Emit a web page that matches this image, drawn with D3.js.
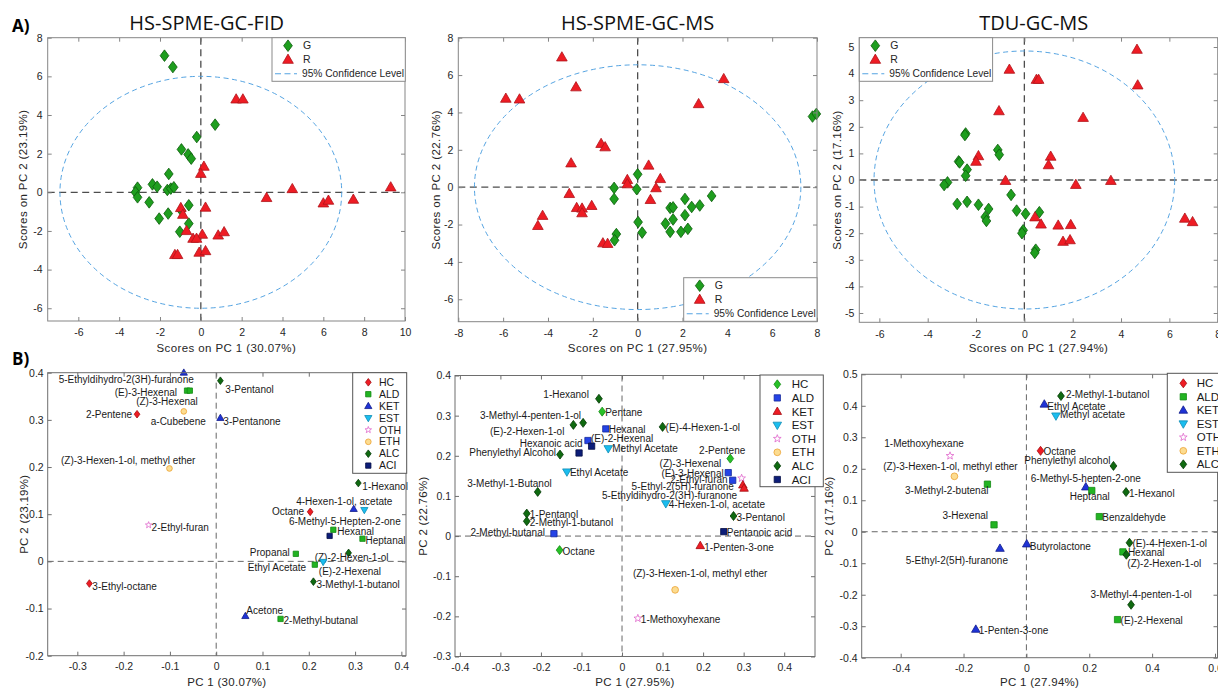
<!DOCTYPE html>
<html>
<head>
<meta charset="utf-8">
<script src="https://cdn.jsdelivr.net/npm/d3@7"></script>
<style>
  body { margin: 0; background: #fff; }
  svg { display: block; font-family: "Liberation Sans", Arial, sans-serif; }
</style>
</head>
<body>
<svg id="fig" width="1218" height="690"></svg>
<script>
// ---- score plots (A) : [PC1, PC2] per sample ----
const fidG = [[-1.78,7.07],[-1.37,6.48],[0.70,3.50],[-0.20,2.86],[-0.95,2.22],[-0.62,1.96],[-0.47,1.74],[-1.57,0.95],[-2.37,0.41],[-2.14,0.29],[-3.10,0.24],[-1.64,0.12],[-1.47,0.19],[-1.32,0.26],[-3.20,0.00],[-3.10,-0.26],[-2.53,-0.52],[-0.59,-0.67],[-1.60,-1.10],[-2.04,-1.36],[-0.59,-1.62],[-1.03,-2.04],[-0.95,-0.95]];
const fidR = [[1.73,4.81],[2.06,4.81],[0.15,1.33],[0.00,0.96],[4.48,0.17],[9.30,0.26],[3.22,-0.29],[6.00,-0.57],[6.25,-0.43],[7.47,-0.38],[-0.98,-0.81],[-0.88,-1.16],[0.23,-0.79],[-0.70,-2.00],[0.07,-2.19],[0.85,-2.23],[1.14,-2.06],[-0.38,-2.40],[-0.21,-2.40],[-1.27,-3.24],[-1.14,-3.24],[-0.08,-3.12],[0.23,-3.04]];
const msG = [[7.80,3.78],[7.97,3.92],[0.00,0.69],[-1.05,-0.04],[-0.04,-0.11],[-1.05,-0.63],[0.02,-1.87],[0.20,-2.43],[-0.95,-2.51],[-1.03,-2.84],[2.11,-0.63],[3.30,-0.47],[2.77,-0.98],[2.41,-1.06],[1.45,-1.11],[1.58,-1.08],[2.11,-1.50],[1.58,-1.73],[1.24,-1.95],[1.45,-2.39],[1.93,-2.39],[2.24,-2.23]];
const msR = [[-3.38,6.95],[-5.88,4.74],[-5.27,4.70],[-2.75,5.35],[3.84,5.79],[2.72,4.45],[-1.63,2.32],[-1.45,2.14],[-2.97,1.28],[0.49,1.16],[-0.46,0.39],[-0.46,0.16],[1.01,0.44],[0.82,-0.05],[0.57,-0.68],[-3.05,-0.36],[-2.72,-1.11],[-2.48,-1.14],[-2.48,-1.39],[-2.05,-1.00],[-4.24,-1.53],[-4.45,-2.07],[-1.55,-3.00],[-1.34,-3.03]];
const tduG = [[-2.43,1.75],[-2.46,1.69],[-1.10,1.13],[-1.04,0.95],[-2.72,0.70],[-2.68,0.66],[-2.37,0.39],[-2.43,0.16],[-3.18,-0.09],[-3.32,-0.19],[-0.55,-0.56],[-2.78,-0.90],[-2.37,-0.82],[-1.90,-0.93],[-1.48,-1.09],[-1.62,-1.39],[-1.57,-1.54],[-0.32,-1.15],[0.05,-1.27],[0.62,-1.21],[-0.05,-1.89],[-0.10,-2.00],[0.47,-2.62],[0.43,-2.74]];
const tduR = [[4.66,4.90],[-0.62,4.15],[0.50,3.77],[0.59,3.77],[4.69,3.56],[2.43,2.34],[-1.05,2.59],[-1.90,0.90],[-2.00,0.69],[1.09,0.88],[1.00,0.56],[-0.78,-0.03],[2.13,-0.18],[3.58,-0.03],[6.64,-1.45],[6.96,-1.58],[0.44,-1.40],[0.69,-1.67],[1.40,-1.71],[1.92,-1.69],[1.60,-2.32],[1.89,-2.26]];
// 95% confidence ellipse half-axes [PC1, PC2]
const fidConf = [6.9, 6.0];
const msConf = [7.28, 6.55];
const tduConf = [6.22, 4.85];

// ---- loading plots (B) : [compound, class, PC1, PC2] ----
const classes = ["HC", "ALD", "KET", "EST", "OTH", "ETH", "ALC", "ACI"];
const fidLoad = [
  ["5-Ethyldihydro-2(3H)-furanone","KET",-0.070,0.400],
  ["(E)-3-Hexenal","ALD",-0.063,0.362],
  ["(Z)-3-Hexenal","ALD",-0.057,0.362],
  ["2-Pentene","HC",-0.171,0.312],
  ["a-Cubebene","ETH",-0.070,0.318],
  ["3-Pentanol","ALC",0.009,0.383],
  ["3-Pentanone","KET",0.009,0.304],
  ["(Z)-3-Hexen-1-ol, methyl ether","ETH",-0.101,0.197],
  ["1-Hexanol","ALC",0.307,0.166],
  ["4-Hexen-1-ol, acetate","EST",0.320,0.109],
  ["6-Methyl-5-Hepten-2-one","KET",0.297,0.111],
  ["Octane","HC",0.203,0.105],
  ["2-Ethyl-furan","OTH",-0.146,0.077],
  ["Hexanal","ALD",0.253,0.067],
  ["","ACI",0.245,0.054],
  ["Heptanal","ALD",0.316,0.048],
  ["Propanal","ALD",0.172,0.016],
  ["(Z)-2-Hexen-1-ol","ALC",0.286,0.018],
  ["Ethyl Acetate","EST",0.231,-0.001],
  ["(E)-2-Hexenal","ALD",0.213,-0.007],
  ["3-Methyl-1-butanol","ALC",0.210,-0.043],
  ["3-Ethyl-octane","HC",-0.274,-0.047],
  ["Acetone","KET",0.063,-0.116],
  ["2-Methyl-butanal","ALD",0.139,-0.122]
];
const msLoad = [
  ["1-Hexanol","ALC",-0.057,0.342],
  ["Pentane","HC",-0.049,0.310],
  ["3-Methyl-4-penten-1-ol","ALC",-0.096,0.282],
  ["(E)-2-Hexen-1-ol","ALC",-0.120,0.277],
  ["Hexanal","ALD",-0.040,0.267],
  ["(E)-2-Hexenal","ALD",-0.084,0.238],
  ["Hexanoic acid","ACI",-0.075,0.224],
  ["Phenylethyl Alcohol","ALC",-0.153,0.203],
  ["","ACI",-0.106,0.207],
  ["Methyl Acetate","EST",-0.034,0.218],
  ["(E)-4-Hexen-1-ol","ALC",0.100,0.272],
  ["Ethyl Acetate","EST",-0.136,0.160],
  ["2-Pentene","HC",0.267,0.193],
  ["(Z)-3-Hexenal","ALD",0.262,0.158],
  ["(E)-3-Hexenal","ALD",0.273,0.139],
  ["2-Ethyl-furan","OTH",0.295,0.144],
  ["5-Ethyl-2(5H)-furanone","KET",0.298,0.127],
  ["5-Ethyldihydro-2(3H)-furanone","KET",0.301,0.119],
  ["3-Methyl-1-Butanol","ALC",-0.208,0.110],
  ["4-Hexen-1-ol, acetate","EST",0.108,0.081],
  ["1-Pentanol","ALC",-0.235,0.056],
  ["2-Methyl-1-butanol","ALC",-0.235,0.037],
  ["3-Pentanol","ALC",0.275,0.050],
  ["2-Methyl-butanal","ALD",-0.168,0.006],
  ["Pentanoic acid","ACI",0.251,0.011],
  ["Octane","HC",-0.154,-0.035],
  ["1-Penten-3-one","KET",0.193,-0.024],
  ["(Z)-3-Hexen-1-ol, methyl ether","ETH",0.131,-0.134],
  ["1-Methoxyhexane","OTH",0.039,-0.205]
];
const tduLoad = [
  ["2-Methyl-1-butanol","ALC",0.110,0.431],
  ["Ethyl Acetate","KET",0.057,0.405],
  ["Methyl acetate","EST",0.094,0.368],
  ["1-Methoxyhexane","OTH",-0.243,0.241],
  ["Octane","HC",0.045,0.257],
  ["Phenylethyl alcohol","ALC",0.277,0.209],
  ["(Z)-3-Hexen-1-ol, methyl ether","ETH",-0.229,0.176],
  ["3-Methyl-2-butenal","ALD",-0.124,0.151],
  ["6-Methyl-5-hepten-2-one","KET",0.189,0.142],
  ["Heptanal","ALD",0.208,0.131],
  ["1-Hexanol","ALC",0.317,0.126],
  ["3-Hexenal","ALD",-0.103,0.022],
  ["Benzaldehyde","ALD",0.232,0.048],
  ["Butyrolactone","KET",0.001,-0.039],
  ["5-Ethyl-2(5H)-furanone","KET",-0.084,-0.053],
  ["(E)-4-Hexen-1-ol","ALC",0.328,-0.035],
  ["Hexanal","ALD",0.307,-0.064],
  ["(Z)-2-Hexen-1-ol","ALC",0.318,-0.073],
  ["3-Methyl-4-penten-1-ol","ALC",0.333,-0.232],
  ["(E)-2-Hexenal","ALD",0.290,-0.279],
  ["1-Penten-3-one","KET",-0.161,-0.310]
];

// ---- tick values ----
const fidScoreX = [-6,-4,-2,0,2,4,6,8,10], fidScoreY = [-6,-4,-2,0,2,4,6,8];
const msScoreX = [-8,-6,-4,-2,0,2,4,6,8], msScoreY = [-6,-4,-2,0,2,4,6,8];
const tduScoreX = [-6,-4,-2,0,2,4,6,8], tduScoreY = [-5,-4,-3,-2,-1,0,1,2,3,4,5];
const fidLoadX = [-0.3,-0.2,-0.1,0,0.1,0.2,0.3,0.4], fidLoadY = [-0.2,-0.1,0,0.1,0.2,0.3,0.4];
const msLoadX = [-0.4,-0.3,-0.2,-0.1,0,0.1,0.2,0.3,0.4], msLoadY = [-0.3,-0.2,-0.1,0,0.1,0.2,0.3,0.4];
const tduLoadX = [-0.4,-0.2,0,0.2,0.4,0.6], tduLoadY = [-0.4,-0.3,-0.2,-0.1,0,0.1,0.2,0.3,0.4,0.5];

// ---- label placement (anchor, dx, dy from the marker) ----
const fidLabelAt = {
  "5-Ethyldihydro-2(3H)-furanone": ["end", 10, 7], "(E)-3-Hexenal": ["end", -10, 2], "(Z)-3-Hexenal": ["end", 8, 11],
  "2-Pentene": ["end", -5, 0], "a-Cubebene": ["end", 22, 10], "3-Pentanol": ["start", 5, 9], "3-Pentanone": ["start", 3, 4],
  "(Z)-3-Hexen-1-ol, methyl ether": ["end", 26, -8], "1-Hexanol": ["start", 4, 3], "4-Hexen-1-ol, acetate": ["end", 28, -8],
  "6-Methyl-5-Hepten-2-one": ["end", 47, 12], "Octane": ["end", -6, 0], "2-Ethyl-furan": ["start", 3, 2], "Hexanal": ["start", 4, 2],
  "Heptanal": ["start", 3, 2], "Propanal": ["end", -6, -1], "(Z)-2-Hexen-1-ol": ["middle", 3, 5], "Ethyl Acetate": ["end", -17, 6],
  "(E)-2-Hexenal": ["start", 4, 7], "3-Methyl-1-butanol": ["start", 3, 3], "3-Ethyl-octane": ["start", 3, 3],
  "Acetone": ["start", 1, -6], "2-Methyl-butanal": ["start", 3, 2]
};
const msLabelAt = {
  "1-Hexanol": ["end", -10, -4], "Pentane": ["start", 3, 1], "3-Methyl-4-penten-1-ol": ["end", -2, -7], "(E)-2-Hexen-1-ol": ["end", -9, 7],
  "Hexanal": ["start", 3, 1], "(E)-2-Hexenal": ["start", 3, -2], "Hexanoic acid": ["end", -9, -3], "Phenylethyl Alcohol": ["end", -4, -2],
  "Methyl Acetate": ["start", 4, 0], "(E)-4-Hexen-1-ol": ["start", 3, 1], "Ethyl Acetate": ["start", 3, 1], "2-Pentene": ["end", 15, -8],
  "(Z)-3-Hexenal": ["end", -7, -9], "(E)-3-Hexenal": ["end", -9, -7], "2-Ethyl-furan": ["end", -14, 1], "5-Ethyl-2(5H)-furanone": ["end", -9, 1],
  "5-Ethyldihydro-2(3H)-furanone": ["end", -7, 7], "3-Methyl-1-Butanol": ["end", 14, -8], "4-Hexen-1-ol, acetate": ["start", 3, 1],
  "1-Pentanol": ["start", 3, 1], "2-Methyl-1-butanol": ["start", 3, 1], "3-Pentanol": ["start", 3, 1], "2-Methyl-butanal": ["end", -9, -1],
  "Pentanoic acid": ["start", 3, 1], "Octane": ["start", 3, 1], "1-Penten-3-one": ["start", 4, 2],
  "(Z)-3-Hexen-1-ol, methyl ether": ["middle", 25, -16], "1-Methoxyhexane": ["start", 3, 1]
};
const tduLabelAt = {
  "2-Methyl-1-butanol": ["start", 5, -2], "Ethyl Acetate": ["start", 3, 2], "Methyl acetate": ["start", 4, -1],
  "1-Methoxyhexane": ["middle", -26, -12], "Octane": ["start", 3, 1], "Phenylethyl alcohol": ["end", -3, -5],
  "(Z)-3-Hexen-1-ol, methyl ether": ["middle", -4, -10], "3-Methyl-2-butenal": ["end", 1, 6], "6-Methyl-5-hepten-2-one": ["middle", 0, -9],
  "Heptanal": ["middle", -2, 6], "1-Hexanol": ["start", 3, 1], "3-Hexenal": ["end", -6, -9], "Benzaldehyde": ["start", 3, 1],
  "Butyrolactone": ["start", 3, 2], "5-Ethyl-2(5H)-furanone": ["end", 8, 12], "(E)-4-Hexen-1-ol": ["start", 3, 1],
  "Hexanal": ["start", 5, 1], "(Z)-2-Hexen-1-ol": ["start", 1, 9], "3-Methyl-4-penten-1-ol": ["middle", 10, -10],
  "(E)-2-Hexenal": ["start", 3, 1], "1-Penten-3-one": ["start", 3, 1]
};

// ---- marker shapes (d3.symbol custom types) ----
const shapes = {
  diamond: { draw(c, s) { const r = Math.sqrt(s); c.moveTo(0, -r); c.lineTo(r * 0.75, 0); c.lineTo(0, r); c.lineTo(-r * 0.75, 0); c.closePath(); } },
  triUp: { draw(c, s) { const r = Math.sqrt(s); c.moveTo(0, -r); c.lineTo(r * 0.95, r * 0.65); c.lineTo(-r * 0.95, r * 0.65); c.closePath(); } },
  triDown: { draw(c, s) { const r = Math.sqrt(s); c.moveTo(0, r); c.lineTo(r * 0.95, -r * 0.65); c.lineTo(-r * 0.95, -r * 0.65); c.closePath(); } },
  square: { draw(c, s) { const r = Math.sqrt(s) * 0.7; c.rect(-r, -r, 2 * r, 2 * r); } },
  circle: { draw(c, s) { const r = Math.sqrt(s) * 0.75; c.moveTo(r, 0); c.arc(0, 0, r, 0, 2 * Math.PI); } },
  star: { draw(c, s) {
    const R = Math.sqrt(s) * 0.9, ri = R * 0.42;
    for (let i = 0; i < 10; i++) {
      const a = -Math.PI / 2 + i * Math.PI / 5, rr = i % 2 ? ri : R;
      if (i) c.lineTo(rr * Math.cos(a), rr * Math.sin(a)); else c.moveTo(rr * Math.cos(a), rr * Math.sin(a));
    }
    c.closePath();
  } }
};
const mark = (type, r) => d3.symbol().type(shapes[type]).size(r * r);

const st = {
  red: { shape: "diamond", fill: "#ee1c24", stroke: "#a30d12" },
  ltGreen: { shape: "diamond", fill: "#27c127", stroke: "#138a13" },
  greenSq: { shape: "square", fill: "#22b422", stroke: "#138a13" },
  blueSq: { shape: "square", fill: "#2443e6", stroke: "#15289a" },
  blueTri: { shape: "triUp", fill: "#1f33d6", stroke: "#111d8a" },
  redTri: { shape: "triUp", fill: "#ee1c24", stroke: "#a30d12" },
  cyan: { shape: "triDown", fill: "#1bbdef", stroke: "#0e8db5" },
  pink: { shape: "star", fill: "none", stroke: "#e066cc" },
  orange: { shape: "circle", fill: "#fcdc90", stroke: "#eba234" },
  dkGreen: { shape: "diamond", fill: "#0f6a10", stroke: "#053806" },
  navy: { shape: "square", fill: "#0c1d78", stroke: "#050e45" }
};
const fidStyle = { HC: st.red, ALD: st.greenSq, KET: st.blueTri, EST: st.cyan, OTH: st.pink, ETH: st.orange, ALC: st.dkGreen, ACI: st.navy };
const msStyle = { HC: st.ltGreen, ALD: st.blueSq, KET: st.redTri, EST: st.cyan, OTH: st.pink, ETH: st.orange, ALC: st.dkGreen, ACI: st.navy };
const tduStyle = fidStyle;

const svg = d3.select("#fig");
const fmt = d => String(+d.toFixed(2));

function makeScales(p) {
  return {
    x: d3.scaleLinear().domain(p.xDom).range([p.left, p.right]),
    y: d3.scaleLinear().domain(p.yDom).range([p.bottom, p.top])
  };
}

function zeroLines(g, x, y, p, style) {
  g.append("line").attr("x1", p.left).attr("x2", p.right).attr("y1", y(0)).attr("y2", y(0))
    .attr("stroke", style[0]).attr("stroke-width", style[1]).attr("stroke-dasharray", style[2]);
  g.append("line").attr("x1", x(0)).attr("x2", x(0)).attr("y1", p.top).attr("y2", p.bottom)
    .attr("stroke", style[0]).attr("stroke-width", style[1]).attr("stroke-dasharray", style[2]);
}

function boxAxes(g, x, y, p) {
  const list = [
    [d3.axisBottom(x), `translate(0,${p.bottom})`, p.xTicks, true],
    [d3.axisTop(x), `translate(0,${p.top})`, p.xTicks, false],
    [d3.axisLeft(y), `translate(${p.left},0)`, p.yTicks, true],
    [d3.axisRight(y), `translate(${p.right},0)`, p.yTicks, false]
  ];
  list.forEach(([ax, tr, tv, lab], i) => {
    const s = g.append("g").attr("transform", tr)
      .call(ax.tickValues(tv).tickSizeInner(-4).tickSizeOuter(0)
        .tickPadding(lab ? (i === 0 ? p.xPad : p.yPad) : 0).tickFormat(lab ? fmt : ""));
    s.attr("font-family", null).attr("font-size", p.tickFont);
    s.select(".domain").remove();
    s.selectAll(".tick line").attr("stroke", p.axisColor);
    s.selectAll(".tick text").attr("fill", "#262626");
  });
  g.append("rect").attr("x", p.left).attr("y", p.top)
    .attr("width", p.right - p.left).attr("height", p.bottom - p.top)
    .attr("fill", "none").attr("stroke", p.axisColor).attr("stroke-width", 1);
}

function axisTitles(g, p) {
  g.append("text").attr("x", (p.left + p.right) / 2).attr("y", p.xlY)
    .attr("text-anchor", "middle").attr("font-size", p.labFont).attr("letter-spacing", p.labSpace)
    .attr("fill", "#262626").text(p.xl);
  g.append("text").attr("transform", `translate(${p.ylX},${(p.top + p.bottom) / 2}) rotate(-90)`)
    .attr("text-anchor", "middle").attr("dy", "0.35em").attr("font-size", p.labFont).attr("letter-spacing", p.labSpace)
    .attr("fill", "#262626").text(p.yl);
}

// ---------------- A : scores ----------------
const gStyle = { shape: "diamond", fill: "#1e9e1e", stroke: "#0b5c0b", r: 5.8 };
const rStyle = { shape: "triUp", fill: "#ee1c24", stroke: "#b0141a", r: 5.6 };
const confColor = "#55a4e2";

const scorePanels = [
  { left: 47.7, right: 405, top: 37.7, bottom: 321, xDom: [-7.5, 10], yDom: [-6.66, 8], xTicks: fidScoreX, yTicks: fidScoreY,
    G: fidG, R: fidR, conf: fidConf, title: "HS-SPME-GC-FID", titleX: 206.7,
    xl: "Scores on PC 1 (30.07%)", yl: "Scores on PC 2 (23.19%)", ylX: 23, leg: [272, 37.7] },
  { left: 458.3, right: 817, top: 37.7, bottom: 321.7, xDom: [-8, 8], yDom: [-7.2, 8], xTicks: msScoreX, yTicks: msScoreY,
    G: msG, R: msR, conf: msConf, title: "HS-SPME-GC-MS", titleX: 637.5,
    xl: "Scores on PC 1 (27.95%)", yl: "Scores on PC 2 (22.76%)", ylX: 436, leg: [683.7, 277.7] },
  { left: 859.3, right: 1217.7, top: 37.7, bottom: 322.3, xDom: [-6.83, 8], yDom: [-5.35, 5.35], xTicks: tduScoreX, yTicks: tduScoreY,
    G: tduG, R: tduR, conf: tduConf, title: "TDU-GC-MS", titleX: 1033.8,
    xl: "Scores on PC 1 (27.94%)", yl: "Scores on PC 2 (17.16%)", ylX: 836.5, leg: [859.3, 37.7] }
];

scorePanels.forEach(p => {
  Object.assign(p, { xPad: 8, yPad: 5, tickFont: 10.5, axisColor: "#858585", labFont: 11.5, labSpace: 0.4, xlY: 352 });
  const { x, y } = makeScales(p);
  const g = svg.append("g");
  zeroLines(g, x, y, p, ["#4d4d4d", 1.3, "7,4.5"]);
  g.append("ellipse").attr("cx", x(0)).attr("cy", y(0))
    .attr("rx", x(p.conf[0]) - x(0)).attr("ry", y(0) - y(p.conf[1]))
    .attr("fill", "none").attr("stroke", confColor).attr("stroke-width", 1).attr("stroke-dasharray", "5,3.5");
  [[p.G, gStyle], [p.R, rStyle]].forEach(([pts, s]) => {
    g.append("g").selectAll("path").data(pts).join("path")
      .attr("transform", d => `translate(${x(d[0])},${y(d[1])})`)
      .attr("d", mark(s.shape, s.r)).attr("fill", s.fill).attr("stroke", s.stroke).attr("stroke-width", 0.8);
  });
  boxAxes(g, x, y, p);
  axisTitles(g, p);
  // legend
  const lg = g.append("g").attr("transform", `translate(${p.leg[0]},${p.leg[1]})`);
  lg.append("rect").attr("width", 133.3).attr("height", 43.6).attr("fill", "#fff").attr("stroke", "#8a8a8a");
  [["G", gStyle], ["R", rStyle]].forEach(([t, s], i) => {
    const yy = 8 + i * 14;
    lg.append("path").attr("transform", `translate(16,${yy})`).attr("d", mark(s.shape, s.r))
      .attr("fill", s.fill).attr("stroke", s.stroke).attr("stroke-width", 0.8);
    lg.append("text").attr("x", 31).attr("y", yy).attr("dy", "0.35em").attr("font-size", 10.5).attr("fill", "#262626").text(t);
  });
  lg.append("line").attr("x1", 3).attr("x2", 25).attr("y1", 36).attr("y2", 36)
    .attr("stroke", confColor).attr("stroke-width", 1.1).attr("stroke-dasharray", "6,3.5");
  lg.append("text").attr("x", 30).attr("y", 36).attr("dy", "0.35em").attr("font-size", 10.2).attr("fill", "#262626").text("95% Confidence Level");
  // title
  svg.append("text").attr("x", p.titleX).attr("y", 30).attr("text-anchor", "middle")
    .style("font-family", "'Open Sans', sans-serif").attr("font-size", 20).attr("fill", "#111").text(p.title);
});

// ---------------- B : loadings ----------------
const loadPanels = [
  { left: 47.7, right: 406, top: 372.7, bottom: 655.7, xDom: [-0.364, 0.41], yDom: [-0.2, 0.4], xTicks: fidLoadX, yTicks: fidLoadY,
    data: fidLoad, labelAt: fidLabelAt, style: fidStyle, r: 3.8, classes: classes,
    xl: "PC 1 (30.07%)", yl: "PC 2 (23.19%)", ylX: 24,
    leg: { x: 352.7, y: 372.7, w: 54, h: 100.6, first: 9.6, step: 11.9, mx: 15.6, tx: 26.3, font: 10.5 } },
  { left: 455, right: 815, top: 375.5, bottom: 656.5, xDom: [-0.412, 0.476], yDom: [-0.3, 0.4], xTicks: msLoadX, yTicks: msLoadY,
    data: msLoad, labelAt: msLabelAt, style: msStyle, r: 4.5, classes: classes,
    xl: "PC 1 (27.95%)", yl: "PC 2 (22.76%)", ylX: 422.5,
    leg: { x: 760, y: 375, w: 63.3, h: 111.7, first: 9.3, step: 13.6, mx: 17.3, tx: 31.7, font: 11.5 } },
  { left: 861.7, right: 1217.5, top: 374.3, bottom: 657.7, xDom: [-0.524, 0.608], yDom: [-0.4, 0.5], xTicks: tduLoadX, yTicks: tduLoadY,
    data: tduLoad, labelAt: tduLabelAt, style: tduStyle, r: 4.5, classes: classes.slice(0, 7),
    xl: "PC 1 (27.94%)", yl: "PC 2 (17.16%)", ylX: 828.5,
    leg: { x: 1167.3, y: 373.3, w: 70, h: 99, first: 10, step: 13.5, mx: 16, tx: 29.4, font: 11.5 } }
];

loadPanels.forEach(p => {
  Object.assign(p, { xPad: 7, yPad: 4, tickFont: 10.5, axisColor: "#6e6e6e", labFont: 11.5, labSpace: 0.3, xlY: 686 });
  const { x, y } = makeScales(p);
  const g = svg.append("g");
  zeroLines(g, x, y, p, ["#666", 1, "6,4"]);
  const pts = g.append("g").selectAll("g").data(p.data).join("g")
    .attr("transform", d => `translate(${x(d[2])},${y(d[3])})`);
  pts.append("path").attr("d", d => mark(p.style[d[1]].shape, p.r)())
    .attr("fill", d => p.style[d[1]].fill).attr("stroke", d => p.style[d[1]].stroke).attr("stroke-width", 0.8);
  pts.filter(d => p.labelAt[d[0]]).append("text")
    .attr("text-anchor", d => p.labelAt[d[0]][0])
    .attr("x", d => p.labelAt[d[0]][1]).attr("y", d => p.labelAt[d[0]][2]).attr("dy", "0.35em")
    .attr("font-size", 10).attr("fill", "#1a1a1a").text(d => d[0]);
  boxAxes(g, x, y, p);
  axisTitles(g, p);
  const L = p.leg;
  const lg = g.append("g").attr("transform", `translate(${L.x},${L.y})`);
  lg.append("rect").attr("width", L.w).attr("height", L.h).attr("fill", "#fff").attr("stroke", "#555");
  p.classes.forEach((c, i) => {
    const yy = L.first + i * L.step, s = p.style[c];
    lg.append("path").attr("transform", `translate(${L.mx},${yy})`).attr("d", mark(s.shape, p.r))
      .attr("fill", s.fill).attr("stroke", s.stroke).attr("stroke-width", 0.8);
    lg.append("text").attr("x", L.tx).attr("y", yy).attr("dy", "0.35em").attr("font-size", L.font).attr("fill", "#1a1a1a").text(c);
  });
});

// panel letters
svg.append("text").attr("x", 12).attr("y", 32).style("font-family", "'Open Sans', sans-serif")
  .attr("font-weight", 700).attr("font-size", 17).text("A)");
svg.append("text").attr("x", 12).attr("y", 365).style("font-family", "'Open Sans', sans-serif")
  .attr("font-weight", 700).attr("font-size", 17).text("B)");
</script>
</body>
</html>
